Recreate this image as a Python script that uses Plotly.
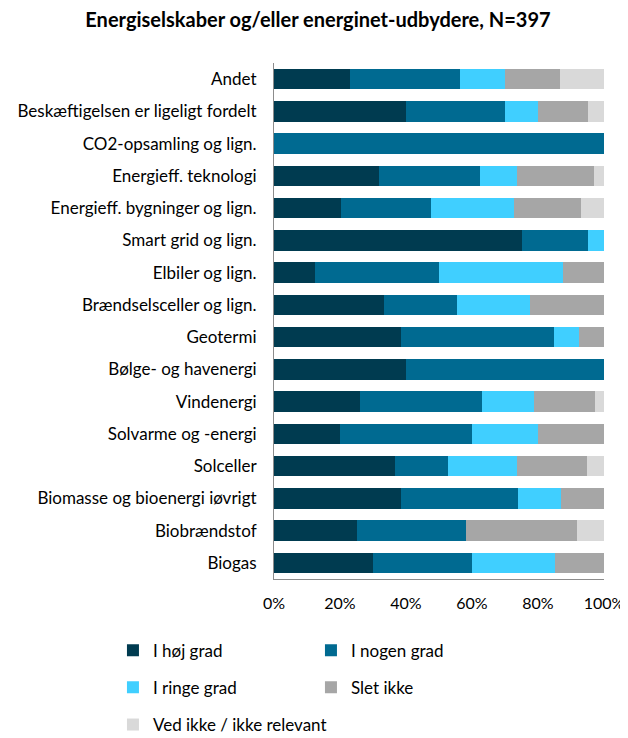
# Energiselskaber og/eller energinet-udbydere - stacked 100% bars
import plotly.graph_objects as go

kategorier = [
    "Andet",
    "Beskæftigelsen er ligeligt fordelt",
    "CO2-opsamling og lign.",
    "Energieff. teknologi",
    "Energieff. bygninger og lign.",
    "Smart grid og lign.",
    "Elbiler og lign.",
    "Brændselsceller og lign.",
    "Geotermi",
    "Bølge- og havenergi",
    "Vindenergi",
    "Solvarme og -energi",
    "Solceller",
    "Biomasse og bioenergi iøvrigt",
    "Biobrændstof",
    "Biogas",
]

hoej_grad = [23.1, 40.0, 0.0, 31.9, 20.3, 75.0, 12.5, 33.3, 38.5, 40.0, 26.2, 20.0, 36.8, 38.6, 25.0, 30.0]
nogen_grad = [33.4, 30.0, 100.0, 30.5, 27.3, 20.0, 37.5, 22.2, 46.2, 60.0, 36.9, 40.0, 15.8, 35.4, 33.3, 30.0]
ringe_grad = [13.4, 10.0, 0.0, 11.1, 25.0, 5.0, 37.5, 22.2, 7.7, 0.0, 15.7, 20.0, 21.0, 13.1, 0.0, 25.0]
slet_ikke = [16.7, 15.0, 0.0, 23.6, 20.5, 0.0, 12.5, 22.3, 7.6, 0.0, 18.5, 20.0, 21.1, 12.9, 33.4, 15.0]
ved_ikke = [13.4, 5.0, 0.0, 2.9, 6.9, 0.0, 0.0, 0.0, 0.0, 0.0, 2.7, 0.0, 5.3, 0.0, 8.3, 0.0]

akse_vaerdier = [0, 20, 40, 60, 80, 100]
akse_tekst = ["0%", "20%", "40%", "60%", "80%", "100%"]

serier = [
    ("I høj grad", hoej_grad, "#003B50", "legend"),
    ("I nogen grad", nogen_grad, "#006A91", "legend"),
    ("I ringe grad", ringe_grad, "#40CFFF", "legend2"),
    ("Slet ikke", slet_ikke, "#A6A6A6", "legend2"),
    ("Ved ikke / ikke relevant", ved_ikke, "#D9D9D9", "legend3"),
]

FONT = "Lato"

fig = go.Figure()
for navn, vaerdier, farve, leg in serier:
    fig.add_trace(go.Bar(
        y=kategorier,
        x=vaerdier,
        name=navn,
        orientation="h",
        marker=dict(color=farve, line=dict(width=0)),
        legend=leg,
        hovertemplate="%{y}<br>" + navn + ": %{x:.1f}%<extra></extra>",
    ))

# the page body adds an 8 px margin, so the figure is a bit smaller than the window
leg_stil = dict(
    orientation="h",
    x=-0.488, xanchor="left",
    yanchor="top",
    entrywidth=153,
    font=dict(family=FONT, size=17, color="#000000"),
    bgcolor="rgba(0,0,0,0)",
    traceorder="normal",
)

fig.update_layout(
    width=620,
    height=730,
    barmode="stack",
    bargap=0.36,
    plot_bgcolor="white",
    paper_bgcolor="white",
    font=dict(family=FONT, size=17, color="#000000"),
    title=dict(
        text="<b>Energiselskaber og/eller energinet-udbydere, N=397</b>",
        font=dict(family=FONT, size=20, color="#000000"),
        x=0.5, xanchor="center", y=0.9836, yanchor="middle",
    ),
    margin=dict(l=266, r=24, t=55, b=159, autoexpand=False),
    xaxis=dict(
        range=[0, 100],
        tickvals=akse_vaerdier,
        ticktext=akse_tekst,
        showgrid=False,
        zeroline=False,
        showline=True,
        linecolor="#8C8C8C",
        linewidth=1,
        ticks="",
        ticklabelstandoff=10,
        tickfont=dict(family=FONT, size=16),
        automargin=False,
        fixedrange=True,
    ),
    yaxis=dict(
        autorange="reversed",
        showgrid=False,
        showline=True,
        linecolor="#8C8C8C",
        linewidth=1,
        ticks="",
        ticklabelstandoff=13,
        tickfont=dict(family=FONT, size=17),
        automargin=False,
        fixedrange=True,
    ),
    legend=dict(leg_stil, y=-0.104),
    legend2=dict(leg_stil, y=-0.176),
    legend3=dict(leg_stil, y=-0.248, entrywidth=260),
)

fig.write_html("out.html")
